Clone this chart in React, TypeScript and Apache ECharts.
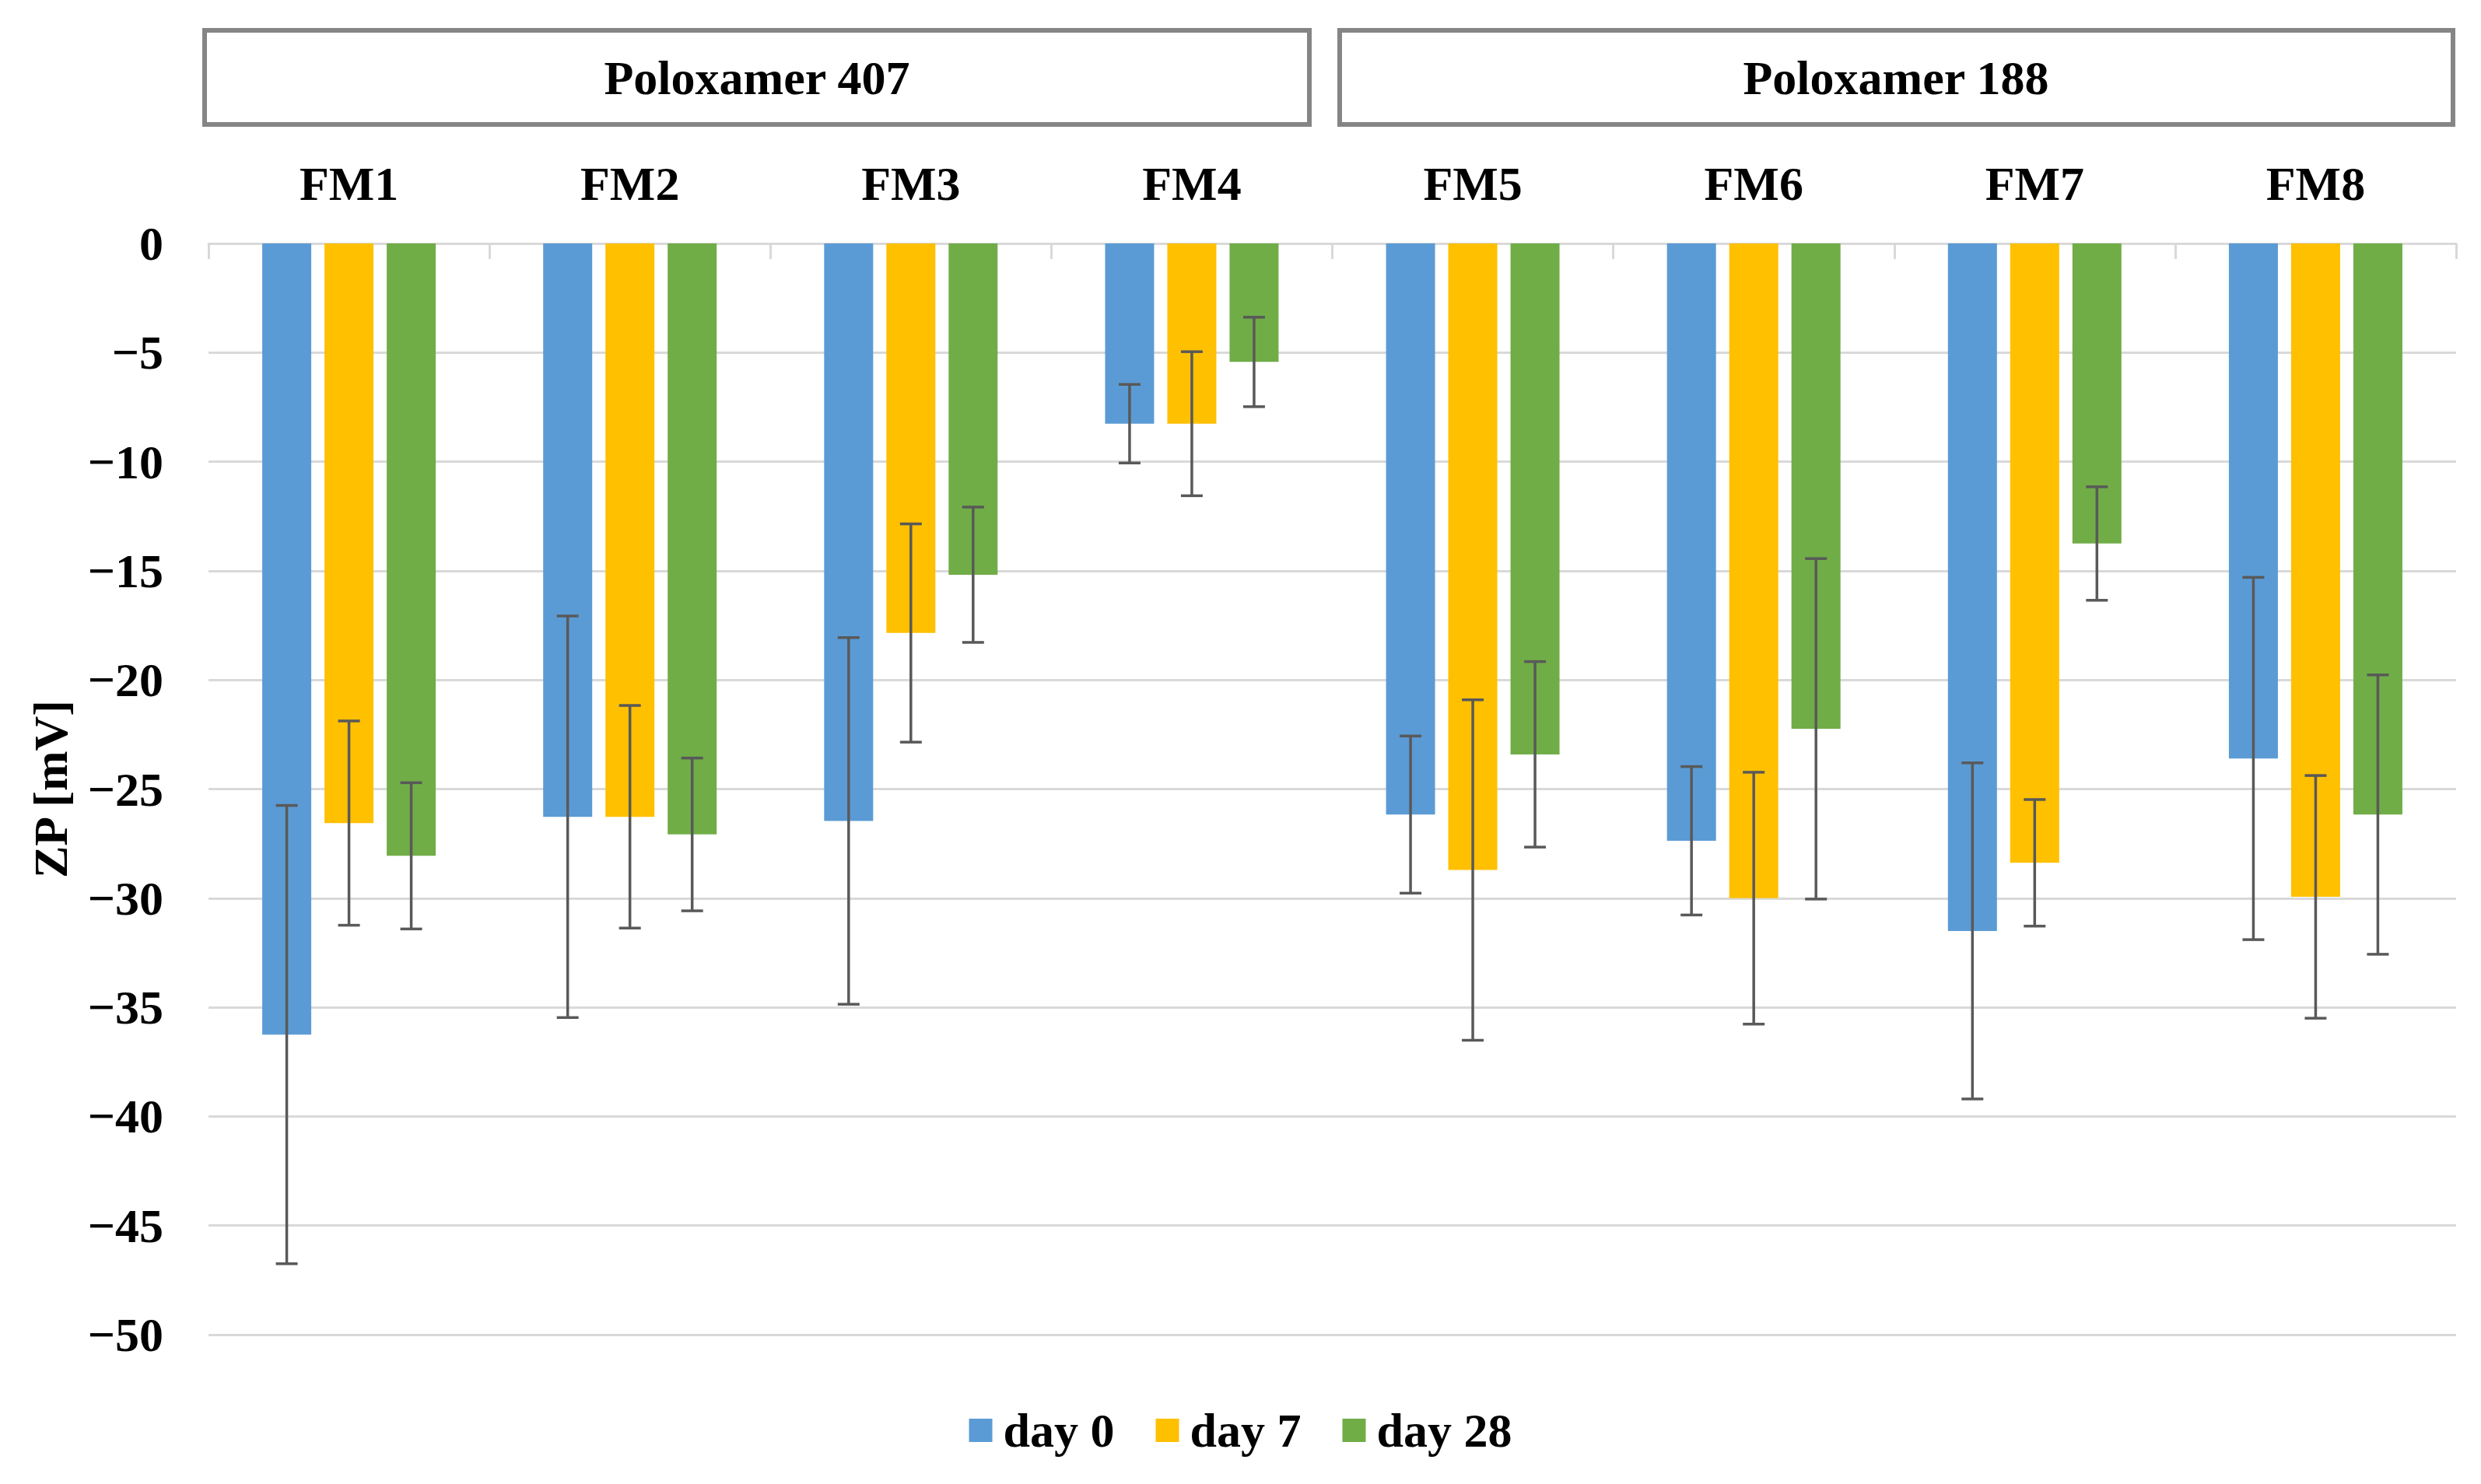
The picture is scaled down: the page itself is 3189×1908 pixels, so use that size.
import React, { useEffect, useRef } from "react";
import * as echarts from "echarts";

const CATEGORIES = ["FM1", "FM2", "FM3", "FM4", "FM5", "FM6", "FM7", "FM8"];
const SERIES_NAMES = ["day 0", "day 7", "day 28"];
const COLORS = ["#5B9BD5", "#FFC000", "#70AD47"];

const DAY0 = [-36.25, -26.27, -26.46, -8.26, -26.17, -27.37, -31.5, -23.6];
const DAY0_SD = [10.5, 9.2, 8.4, 1.8, 3.6, 3.4, 7.7, 8.3];
const DAY7 = [-26.56, -26.27, -17.85, -8.26, -28.71, -30.0, -28.38, -29.94];
const DAY7_SD = [4.68, 5.1, 5.0, 3.3, 7.8, 5.77, 2.9, 5.56];
const DAY28 = [-28.06, -27.08, -15.18, -5.43, -23.41, -22.24, -13.75, -26.17];
const DAY28_SD = [3.35, 3.5, 3.1, 2.05, 4.25, 7.8, 2.6, 6.4];

const GROUP_LABELS = ["Poloxamer 407", "Poloxamer 188"];

const Y_MIN = -50;
const Y_MAX = 0;
const Y_STEP = 5;

const MEANS = [DAY0, DAY7, DAY28];
const SDS = [DAY0_SD, DAY7_SD, DAY28_SD];

const FONT = "'Liberation Serif', 'Times New Roman', serif";
const BAR_W = 63;
const BAR_GAP_PX = 17;

export default function App() {
  const ref = useRef<HTMLDivElement>(null);

  useEffect(() => {
    document.body.style.margin = "0";
    if (!ref.current) return;
    const chart = echarts.init(ref.current, null, { renderer: "svg" });

    const fmt = (v: number) => (v < 0 ? "\u2212" + Math.abs(v) : String(v));

    const barSeries = SERIES_NAMES.map((name, k) => ({
      type: "bar",
      name,
      data: MEANS[k],
      barWidth: BAR_W,
      barGap: (BAR_GAP_PX / BAR_W) * 100 + "%",
      itemStyle: { color: COLORS[k] },
      z: 2,
    }));

    const errSeries = SERIES_NAMES.map((name, k) => ({
      type: "custom",
      name: "err " + name,
      data: CATEGORIES.map((c, i) => [i, MEANS[k][i] - SDS[k][i], MEANS[k][i] + SDS[k][i]]),
      encode: { x: 0, y: [1, 2] },
      z: 10,
      silent: true,
      renderItem: (params: any, api: any) => {
        const i = api.value(0);
        const lo = api.coord([i, api.value(1)]);
        const hi = api.coord([i, api.value(2)]);
        const off = (k - 1) * (BAR_W + BAR_GAP_PX);
        const x = lo[0] + off;
        const cap = 14;
        const style = { stroke: "#595959", lineWidth: 3.5 };
        return {
          type: "group",
          children: [
            { type: "line", shape: { x1: x, y1: lo[1], x2: x, y2: hi[1] }, style },
            { type: "line", shape: { x1: x - cap, y1: lo[1], x2: x + cap, y2: lo[1] }, style },
            { type: "line", shape: { x1: x - cap, y1: hi[1], x2: x + cap, y2: hi[1] }, style },
          ],
        };
      },
    }));

    const boxStyle = { fill: "#ffffff", stroke: "#858585", lineWidth: 6 };
    const textStyle = {
      fontFamily: FONT,
      fontWeight: "bold",
      fontSize: 62,
      fill: "#000000",
      textAlign: "center",
      textVerticalAlign: "middle",
    };

    const option: any = {
      animation: false,
      backgroundColor: "#ffffff",
      grid: { left: 268, right: 32, top: 313, bottom: 192, containLabel: false },
      legend: {
        data: SERIES_NAMES,
        top: 1803,
        left: "center",
        icon: "rect",
        itemWidth: 30,
        itemHeight: 30,
        itemGap: 53,
        textStyle: {
          fontFamily: FONT,
          fontWeight: "bold",
          fontSize: 62,
          color: "#000000",
          padding: [0, 0, 0, 9],
        },
      },
      xAxis: {
        type: "category",
        data: CATEGORIES,
        position: "top",
        axisLine: { show: true, lineStyle: { color: "#d9d9d9", width: 3 } },
        axisTick: { show: true, inside: true, length: 20, lineStyle: { color: "#d9d9d9", width: 3 } },
        axisLabel: {
          fontFamily: FONT,
          fontWeight: "bold",
          fontSize: 62,
          color: "#000000",
          margin: 46,
        },
        splitLine: { show: false },
      },
      yAxis: {
        type: "value",
        min: Y_MIN,
        max: Y_MAX,
        interval: Y_STEP,
        name: "ZP [mV]",
        nameLocation: "middle",
        nameGap: 172,
        nameTextStyle: {
          fontFamily: FONT,
          fontWeight: "bold",
          fontSize: 62,
          color: "#000000",
        },
        axisLine: { show: false },
        axisTick: { show: false },
        axisLabel: {
          fontFamily: FONT,
          fontWeight: "bold",
          fontSize: 62,
          color: "#000000",
          margin: 58,
          formatter: fmt,
        },
        splitLine: { show: true, lineStyle: { color: "#d9d9d9", width: 3 } },
      },
      graphic: [
        { type: "rect", shape: { x: 263, y: 39, width: 1420, height: 121 }, style: boxStyle, z: 1 },
        { type: "rect", shape: { x: 1722, y: 39, width: 1431, height: 121 }, style: boxStyle, z: 1 },
        { type: "text", x: 973, y: 100, style: { ...textStyle, text: GROUP_LABELS[0] }, z: 2 },
        { type: "text", x: 2437, y: 100, style: { ...textStyle, text: GROUP_LABELS[1] }, z: 2 },
      ],
      series: [...barSeries, ...errSeries],
    };

    chart.setOption(option);
    return () => chart.dispose();
  }, []);

  return <div ref={ref} style={{ width: 3189, height: 1908 }} />;
}
